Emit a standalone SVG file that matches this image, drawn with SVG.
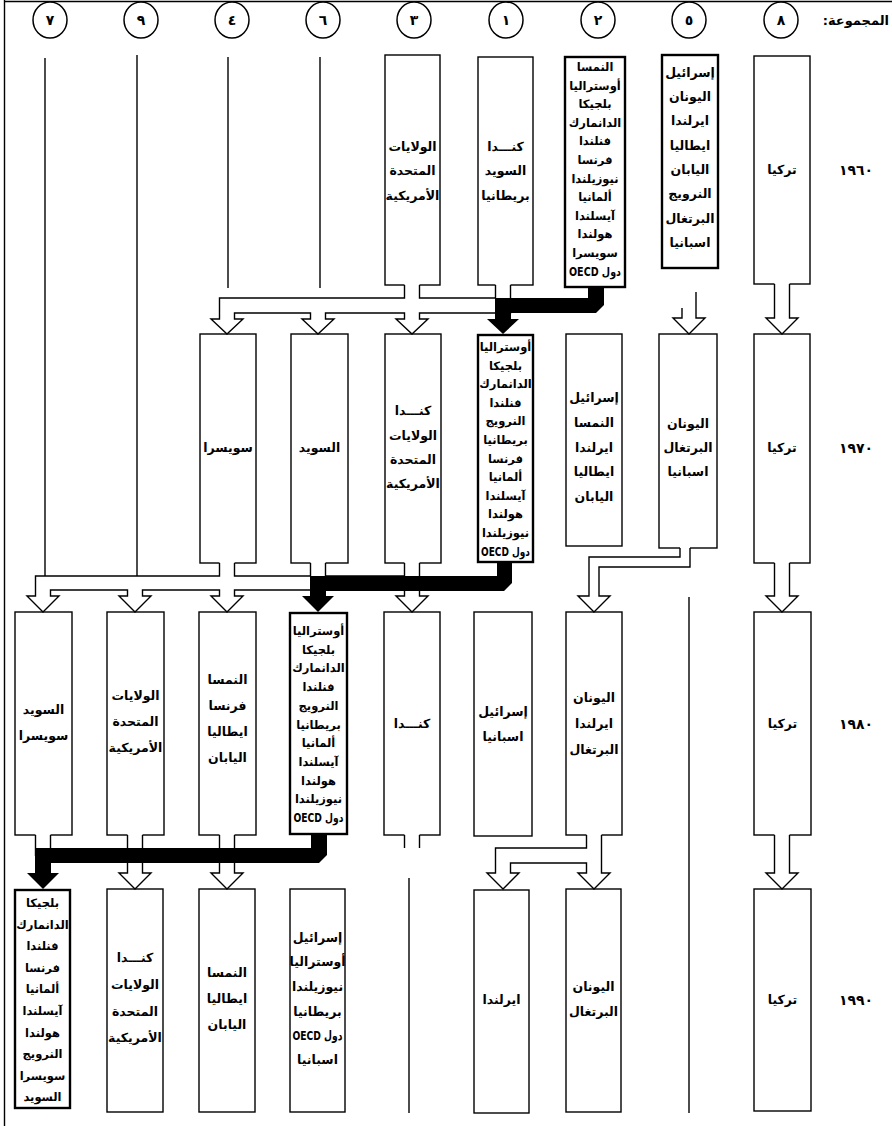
<svg xmlns="http://www.w3.org/2000/svg" width="892" height="1126" viewBox="0 0 892 1126">
<defs><style>
.bx{fill:#fff;stroke:#000;stroke-width:1.4}
.bb{fill:#fff;stroke:#000;stroke-width:2.4}
.t{font-family:"DejaVu Sans",sans-serif;font-weight:bold;font-size:12.5px;text-anchor:middle;direction:rtl;fill:#000}
.td{font-size:11.5px}
.ln{stroke:#000;stroke-width:1.4;fill:none}
.hf{fill:#fff;stroke:none}
.hs{fill:none;stroke:#000;stroke-width:1.4}
.blk{fill:#000;stroke:none}
.cir{fill:#fff;stroke:#000;stroke-width:1.5}
.num{font-family:"DejaVu Sans",sans-serif;font-weight:bold;font-size:14px;text-anchor:middle}
.yr{font-family:"DejaVu Sans",sans-serif;font-weight:bold;font-size:14px;text-anchor:middle;letter-spacing:8px}
.ttl{font-family:"DejaVu Sans",sans-serif;font-weight:bold;font-size:13px;text-anchor:start;direction:rtl}
</style></defs>
<rect width="892" height="1126" fill="#fff"/>
<path class="ln" d="M4.5,0 V1126 M4,1.5 H892"/>

<g id="header">
<text class="ttl" x="889" y="25">المجموعة:</text>
<g id="h8"><ellipse class="cir" cx="781" cy="20" rx="17" ry="18"/><text class="num" x="781" y="25">٨</text></g>
<g id="h5"><ellipse class="cir" cx="689" cy="20" rx="17" ry="18"/><text class="num" x="689" y="25">٥</text></g>
<g id="h2"><ellipse class="cir" cx="598" cy="20" rx="17" ry="18"/><text class="num" x="598" y="25">٢</text></g>
<g id="h1"><ellipse class="cir" cx="506" cy="20" rx="17" ry="18"/><text class="num" x="506" y="25">١</text></g>
<g id="h3"><ellipse class="cir" cx="414" cy="20" rx="17" ry="18"/><text class="num" x="414" y="25">٣</text></g>
<g id="h6"><ellipse class="cir" cx="323" cy="20" rx="17" ry="18"/><text class="num" x="323" y="25">٦</text></g>
<g id="h4"><ellipse class="cir" cx="232" cy="20" rx="17" ry="18"/><text class="num" x="232" y="25">٤</text></g>
<g id="h9"><ellipse class="cir" cx="141" cy="20" rx="17" ry="18"/><text class="num" x="141" y="25">٩</text></g>
<g id="h7"><ellipse class="cir" cx="50" cy="20" rx="17" ry="18"/><text class="num" x="50" y="25">٧</text></g>
</g>

<g id="years">
<text class="yr" x="856" y="175">١٩٦٠</text>
<text class="yr" x="856" y="453">١٩٧٠</text>
<text class="yr" x="856" y="729">١٩٨٠</text>
<text class="yr" x="856" y="1005">١٩٩٠</text>
</g>

<g id="group-lines">
<path class="ln" d="M45,58 V576"/>
<path class="ln" d="M137,55 V576"/>
<path class="ln" d="M228,57 V288"/>
<path class="ln" d="M320,57 V288"/>
<path class="ln" d="M689,597 V1113"/>
<path class="ln" d="M409,878 V1113"/>
</g>

<!-- 1960 -->
<g id="n1960-8"><rect class="bx" x="754" y="56" width="56" height="228"/>
<text class="t"><tspan x="782" y="174">تركيا</tspan></text></g>
<g id="n1960-5"><rect class="bb" x="662" y="55" width="56" height="213"/>
<text class="t"><tspan x="690" y="77">إسرائيل</tspan><tspan x="690" y="101">اليونان</tspan><tspan x="690" y="125">ايرلندا</tspan><tspan x="690" y="150">ايطاليا</tspan><tspan x="690" y="174">اليابان</tspan><tspan x="690" y="198">النرويج</tspan><tspan x="690" y="223">البرتغال</tspan><tspan x="690" y="247">اسبانيا</tspan></text></g>
<g id="n1960-2"><rect class="bb" x="565" y="57" width="60" height="230"/>
<text class="t td"><tspan x="595" y="71">النمسا</tspan><tspan x="595" y="89.6">أوستراليا</tspan><tspan x="595" y="108.2">بلجيكا</tspan><tspan x="595" y="126.8">الدانمارك</tspan><tspan x="595" y="145.4">فنلندا</tspan><tspan x="595" y="164">فرنسا</tspan><tspan x="595" y="182.6">نيوزيلندا</tspan><tspan x="595" y="201.2">ألمانيا</tspan><tspan x="595" y="219.8">آيسلندا</tspan><tspan x="595" y="238.4">هولندا</tspan><tspan x="595" y="257">سويسرا</tspan></text>
<text class="t td" x="595" y="275.6" textLength="52" lengthAdjust="spacingAndGlyphs">دول OECD</text></g>
<g id="n1960-1"><rect class="bx" x="478" y="57" width="55" height="228"/>
<text class="t"><tspan x="505.5" y="151">كنـــدا</tspan><tspan x="505.5" y="175">السويد</tspan><tspan x="505.5" y="200">بريطانيا</tspan></text></g>
<g id="n1960-3"><rect class="bx" x="385" y="55" width="55" height="230"/>
<text class="t"><tspan x="412.5" y="151">الولايات</tspan><tspan x="412.5" y="175">المتحدة</tspan><tspan x="412.5" y="200">الأمريكية</tspan></text></g>

<!-- 1970 -->
<g id="n1970-8"><rect class="bx" x="754" y="334" width="56" height="229"/>
<text class="t"><tspan x="782" y="452">تركيا</tspan></text></g>
<g id="n1970-5"><rect class="bx" x="659" y="334" width="58" height="214"/>
<text class="t"><tspan x="688" y="428">اليونان</tspan><tspan x="688" y="452">البرتغال</tspan><tspan x="688" y="476">اسبانيا</tspan></text></g>
<g id="n1970-2"><rect class="bx" x="566" y="334" width="56" height="212"/>
<text class="t"><tspan x="594" y="402">إسرائيل</tspan><tspan x="594" y="427">النمسا</tspan><tspan x="594" y="452">ايرلندا</tspan><tspan x="594" y="476">ايطاليا</tspan><tspan x="594" y="501">اليابان</tspan></text></g>
<g id="n1970-1"><rect class="bb" x="478" y="335" width="55" height="227"/>
<text class="t td"><tspan x="505.5" y="351">أوستراليا</tspan><tspan x="505.5" y="369.6">بلجيكا</tspan><tspan x="505.5" y="388.2">الدانمارك</tspan><tspan x="505.5" y="406.8">فنلندا</tspan><tspan x="505.5" y="425.4">النرويج</tspan><tspan x="505.5" y="444">بريطانيا</tspan><tspan x="505.5" y="462.6">فرنسا</tspan><tspan x="505.5" y="481.2">ألمانيا</tspan><tspan x="505.5" y="499.8">آيسلندا</tspan><tspan x="505.5" y="518.4">هولندا</tspan><tspan x="505.5" y="537">نيوزيلندا</tspan></text>
<text class="t td" x="505.5" y="555.6" textLength="49" lengthAdjust="spacingAndGlyphs">دول OECD</text></g>
<g id="n1970-3"><rect class="bx" x="385" y="334" width="56" height="229"/>
<text class="t"><tspan x="413" y="415">كنـــدا</tspan><tspan x="413" y="440">الولايات</tspan><tspan x="413" y="464">المتحدة</tspan><tspan x="413" y="488">الأمريكية</tspan></text></g>
<g id="n1970-6"><rect class="bx" x="291" y="334" width="57" height="229"/>
<text class="t"><tspan x="319.5" y="452">السويد</tspan></text></g>
<g id="n1970-4"><rect class="bx" x="200" y="334" width="56" height="229"/>
<text class="t"><tspan x="228" y="452">سويسرا</tspan></text></g>

<!-- 1980 -->
<g id="n1980-8"><rect class="bx" x="754" y="612" width="57" height="223"/>
<text class="t"><tspan x="782.5" y="728">تركيا</tspan></text></g>
<g id="n1980-2"><rect class="bx" x="566" y="612" width="56" height="223"/>
<text class="t"><tspan x="594" y="702">اليونان</tspan><tspan x="594" y="728">ايرلندا</tspan><tspan x="594" y="754">البرتغال</tspan></text></g>
<g id="n1980-1"><rect class="bx" x="474" y="612" width="58" height="224"/>
<text class="t"><tspan x="503" y="716">إسرائيل</tspan><tspan x="503" y="741">اسبانيا</tspan></text></g>
<g id="n1980-3"><rect class="bx" x="384" y="612" width="56" height="223"/>
<text class="t"><tspan x="412" y="728">كنـــدا</tspan></text></g>
<g id="n1980-6"><rect class="bb" x="290" y="613" width="57" height="221"/>
<text class="t td"><tspan x="318.5" y="635">أوستراليا</tspan><tspan x="318.5" y="653.7">بلجيكا</tspan><tspan x="318.5" y="672.4">الدانمارك</tspan><tspan x="318.5" y="691.1">فنلندا</tspan><tspan x="318.5" y="709.8">النرويج</tspan><tspan x="318.5" y="728.5">بريطانيا</tspan><tspan x="318.5" y="747.2">ألمانيا</tspan><tspan x="318.5" y="765.9">آيسلندا</tspan><tspan x="318.5" y="784.6">هولندا</tspan><tspan x="318.5" y="803.3">نيوزيلندا</tspan></text>
<text class="t td" x="318.5" y="822" textLength="50" lengthAdjust="spacingAndGlyphs">دول OECD</text></g>
<g id="n1980-4"><rect class="bx" x="199" y="612" width="57" height="223"/>
<text class="t"><tspan x="227.5" y="684">النمسا</tspan><tspan x="227.5" y="710">فرنسا</tspan><tspan x="227.5" y="736">ايطاليا</tspan><tspan x="227.5" y="762">اليابان</tspan></text></g>
<g id="n1980-9"><rect class="bx" x="107" y="612" width="57" height="223"/>
<text class="t"><tspan x="135.5" y="700">الولايات</tspan><tspan x="135.5" y="726">المتحدة</tspan><tspan x="135.5" y="752">الأمريكية</tspan></text></g>
<g id="n1980-7"><rect class="bx" x="15" y="612" width="57" height="223"/>
<text class="t"><tspan x="43.5" y="714">السويد</tspan><tspan x="43.5" y="740">سويسرا</tspan></text></g>

<!-- 1990 -->
<g id="n1990-8"><rect class="bx" x="754" y="889" width="57" height="222"/>
<text class="t"><tspan x="782.5" y="1004">تركيا</tspan></text></g>
<g id="n1990-2"><rect class="bx" x="566" y="889" width="55" height="223"/>
<text class="t"><tspan x="593.5" y="991">اليونان</tspan><tspan x="593.5" y="1016">البرتغال</tspan></text></g>
<g id="n1990-1"><rect class="bx" x="474" y="890" width="55" height="223"/>
<text class="t"><tspan x="501.5" y="1004">ايرلندا</tspan></text></g>
<g id="n1990-6"><rect class="bx" x="290" y="889" width="55" height="223"/>
<text class="t"><tspan x="317.5" y="942">إسرائيل</tspan><tspan x="317.5" y="966">أوستراليا</tspan><tspan x="317.5" y="991">نيوزيلندا</tspan><tspan x="317.5" y="1016">بريطانيا</tspan><tspan x="317.5" y="1064">اسبانيا</tspan></text>
<text class="t" x="317.5" y="1040" textLength="50" lengthAdjust="spacingAndGlyphs">دول OECD</text></g>
<g id="n1990-4"><rect class="bx" x="199" y="889" width="56" height="223"/>
<text class="t"><tspan x="227" y="977">النمسا</tspan><tspan x="227" y="1003">ايطاليا</tspan><tspan x="227" y="1029">اليابان</tspan></text></g>
<g id="n1990-9"><rect class="bx" x="107" y="889" width="56" height="223"/>
<text class="t"><tspan x="135" y="962">كنـــدا</tspan><tspan x="135" y="989">الولايات</tspan><tspan x="135" y="1016">المتحدة</tspan><tspan x="135" y="1042">الأمريكية</tspan></text></g>
<g id="n1990-7"><rect class="bb" x="15" y="890" width="55" height="218"/>
<text class="t td"><tspan x="42.5" y="907">بلجيكا</tspan><tspan x="42.5" y="928.6">الدانمارك</tspan><tspan x="42.5" y="950.2">فنلندا</tspan><tspan x="42.5" y="971.8">فرنسا</tspan><tspan x="42.5" y="993.4">ألمانيا</tspan><tspan x="42.5" y="1015">آيسلندا</tspan><tspan x="42.5" y="1036.6">هولندا</tspan><tspan x="42.5" y="1058.2">النرويج</tspan><tspan x="42.5" y="1079.8">سويسرا</tspan><tspan x="42.5" y="1101.4">السويد</tspan></text></g>

<g id="connectors">
<!-- 1960 -> 1970 -->
<path class="hf" d="M774.5,281.5 V318 H766 L782,334 L798,318 H789.5 V281.5 Z"/>
<path class="hs" d="M774.5,284 V318 H766 L782,334 L798,318 H789.5 V284"/>
<path class="hs" style="fill:#fff" d="M682,308 V318 H673 L689,334 L705,318 H696 V292"/>
<path class="hf" d="M404.5,282.5 V298 H219.5 V319 H211 L227,334 L243,319 H234.5 V313 H310.5 V319 H302 L318,334 L334,319 H325.5 V313 H404.5 V319 H396 L412,334 L428,319 H419.5 V313 H510.5 V282.5 H495.5 V298 H419.5 V282.5 Z"/>
<path class="hs" d="M404.5,285 V298 H219.5 V319 H211 L227,334 L243,319 H234.5 V313 H310.5 V319 H302 L318,334 L334,319 H325.5 V313 H404.5 V319 H396 L412,334 L428,319 H419.5 V313 H510.5 V285 M495.5,285 V298 H419.5 V285"/>
<path class="blk" d="M588,286 V298 H495 V319 H487 L503,334 L519,319 H511 V313 H596 L604,305 V286 Z"/>
<!-- 1970 -> 1980 -->
<path class="hf" d="M774.5,560.5 V596 H766 L782,612 L798,596 H789.5 V560.5 Z"/>
<path class="hs" d="M774.5,563 V596 H766 L782,612 L798,596 H789.5 V563"/>
<path class="hf" d="M680,545.5 V557 H589 V596 H578 L594,612 L610,596 H599 V567 H690 V545.5 Z"/>
<path class="hs" d="M680,548 V557 H589 V596 H578 L594,612 L610,596 H599 V567 H690 V548"/>
<path class="hf" d="M219.5,560.5 V576 H35.5 V596 H27 L43,612 L59,596 H50.5 V590 H127.5 V596 H119 L135,612 L151,596 H142.5 V590 H219.5 V596 H211 L227,612 L243,596 H234.5 V590 H404.5 V596 H396 L412,612 L428,596 H419.5 V560.5 H404.5 V576 H325.5 V560.5 H310.5 V576 H234.5 V560.5 Z"/>
<path class="hs" d="M219.5,563 V576 H35.5 V596 H27 L43,612 L59,596 H50.5 V590 H127.5 V596 H119 L135,612 L151,596 H142.5 V590 H219.5 V596 H211 L227,612 L243,596 H234.5 V590 H404.5 V596 H396 L412,612 L428,596 H419.5 V563 M404.5,563 V576 H325.5 V563 M310.5,563 V576 H234.5 V563"/>
<path class="blk" d="M497,561 V576 H310 V596 H302 L318,612 L334,596 H326 V591 H504 L512,583 V561 Z"/>
<!-- 1980 -> 1990 -->
<path class="hf" d="M774.5,832.5 V873 H766 L782,889 L798,873 H789.5 V832.5 Z"/>
<path class="hs" d="M774.5,835 V873 H766 L782,889 L798,873 H789.5 V835"/>
<path class="hf" d="M586.5,832.5 V848 H495.5 V873 H487 L503,889 L519,873 H510.5 V863 H586.5 V873 H578 L594,889 L610,873 H601.5 V832.5 Z"/>
<path class="hs" d="M586.5,835 V848 H495.5 V873 H487 L503,889 L519,873 H510.5 V863 H586.5 V873 H578 L594,889 L610,873 H601.5 V835"/>
<path class="hf" d="M404.5,832.5 V848 H419.5 V832.5 Z"/>
<path class="hs" d="M404.5,835 V848 M419.5,835 V848"/>
<path class="hf" d="M219.5,832.5 V873 H211 L227,889 L243,873 H234.5 V832.5 Z"/>
<path class="hs" d="M219.5,835 V873 H211 L227,889 L243,873 H234.5 V835"/>
<path class="hf" d="M127.5,832.5 V873 H119 L135,889 L151,873 H142.5 V832.5 Z"/>
<path class="hs" d="M127.5,835 V873 H119 L135,889 L151,873 H142.5 V835"/>
<path class="hf" d="M35.5,832.5 V856 H50.5 V832.5 Z"/>
<path class="hs" d="M35.5,835 V856 M50.5,835 V856"/>
<path class="blk" d="M311,833 V848 H35 V873 H27 L43,889 L59,873 H51 V863 H319 L327,855 V833 Z"/>
</g>
</svg>
